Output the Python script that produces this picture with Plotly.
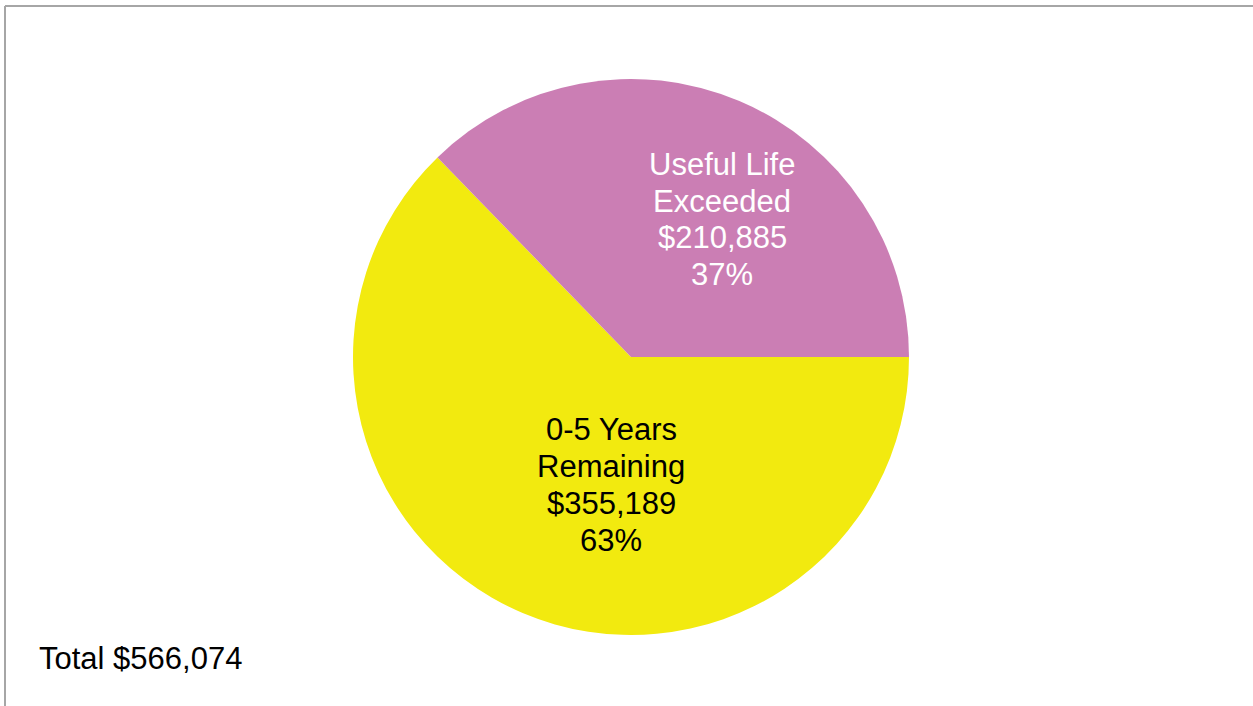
import plotly.graph_objects as go

# Replacement cost by remaining useful life
categories = ["0-5 Years<br>Remaining", "Useful Life<br>Exceeded"]
values = [355189, 210885]
slice_colors = ["#F2EA0F", "#CB7EB4"]
text_colors = ["#000000", "#FFFFFF"]

W, H = 1253, 706
FONT = "Liberation Sans, Arial, sans-serif"
LABEL_SIZE = 31
LINE_GAP = 36.8  # px between label lines
# label block centres (px from top-left of the figure)
label_centres = [(611, 485), (722, 219.5)]

total = sum(values)

fig = go.Figure(
    go.Pie(
        labels=categories,
        values=values,
        sort=False,
        direction="clockwise",
        rotation=90,
        marker=dict(colors=slice_colors, line=dict(width=0)),
        textinfo="none",
        hoverinfo="skip",
        showlegend=False,
        domain=dict(x=[353 / W, 909 / W], y=[1 - 635 / H, 1 - 79 / H]),
    )
)

# slice labels: name, value and share, one annotation per line
for name, val, colour, (cx, cy) in zip(categories, values, text_colors, label_centres):
    lines = name.split("<br>") + [f"${val:,.0f}", f"{val / total:.0%}"]
    n = len(lines)
    for i, line in enumerate(lines):
        py = cy + (i - (n - 1) / 2) * LINE_GAP
        fig.add_annotation(
            text=line, x=cx / W, y=1 - py / H, xref="paper", yref="paper",
            xanchor="center", yanchor="middle", showarrow=False,
            font=dict(family=FONT, size=LABEL_SIZE, color=colour),
        )

fig.add_annotation(
    text=f"Total ${total:,.0f}",
    x=37 / W, y=1 - 658 / H, xref="paper", yref="paper",
    xanchor="left", yanchor="middle", showarrow=False,
    font=dict(family=FONT, size=31, color="#000000"),
)

# chart frame (top and left edges)
frame = dict(color="#A6A6A6", width=2)
fig.add_shape(type="line", xref="paper", yref="paper", x0=5 / W, x1=1, y0=1 - 6 / H, y1=1 - 6 / H, line=frame)
fig.add_shape(type="line", xref="paper", yref="paper", x0=5 / W, x1=5 / W, y0=0, y1=1 - 6 / H, line=frame)

fig.update_layout(
    width=W, height=H,
    margin=dict(l=0, r=0, t=0, b=0),
    paper_bgcolor="white", plot_bgcolor="white",
)

fig.write_html("out.html")
